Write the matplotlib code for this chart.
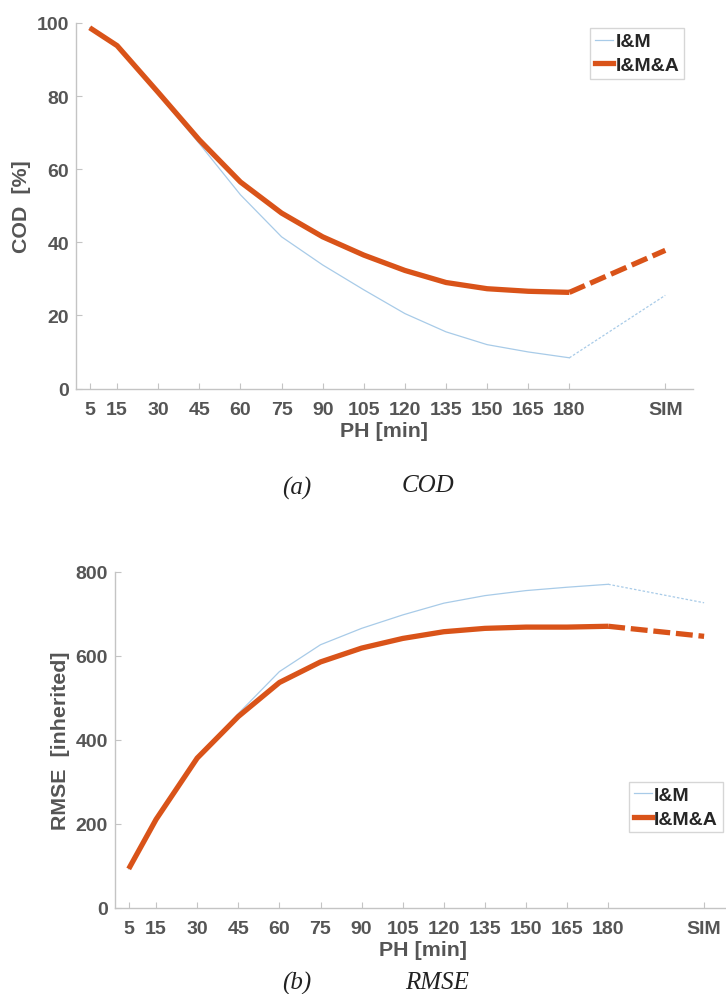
import matplotlib
matplotlib.use('Agg')
import matplotlib.pyplot as plt

# x positions (minutes); "SIM" is drawn at 215
ph = [5, 15, 30, 45, 60, 75, 90, 105, 120, 135, 150, 165, 180, 215]
tick_labels = ['5', '15', '30', '45', '60', '75', '90', '105', '120', '135', '150', '165', '180', 'SIM']

# COD [%]
cod_im = [98.7, 93.8, 80.5, 67, 53, 41.5, 33.8, 27, 20.5, 15.5, 12, 10, 8.4, 25.5]
cod_ima = [98.7, 93.8, 81, 68, 56.5, 48, 41.5, 36.5, 32.3, 29, 27.3, 26.6, 26.3, 37.8]

# RMSE [inherited]
rmse_im = [92, 210, 356, 462, 562, 626, 665, 697, 725, 743, 755, 763, 770, 726]
rmse_ima = [92, 210, 356, 455, 536, 585, 618, 641, 657, 665, 668, 668, 670, 646]

c_im = '#a8cbe8'
c_ima = '#d95319'
ax_col = '#c4c4c4'
txt_col = '#555555'

plt.rcParams['font.family'] = ['Liberation Sans', 'DejaVu Sans']

fig = plt.figure(figsize=(7.26, 9.95), dpi=100)
W, H = 726, 995


def fx(px):
    return px / W


def fy(py):
    return 1 - py / H


def panel(rect, im, ima, yticks, ylabel, leg_anchor):
    ax = fig.add_axes(rect)
    # solid part up to 180, dashed part to SIM
    ax.plot(ph[:-1], im[:-1], color=c_im, lw=0.9, solid_joinstyle='round')
    ax.plot(ph[-2:], im[-2:], color=c_im, lw=0.9, ls=(0, (2, 1.5)))
    ax.plot(ph[:-1], ima[:-1], color=c_ima, lw=3.8, solid_joinstyle='round',
            solid_capstyle='butt')
    ax.plot(ph[-2:], ima[-2:], color=c_ima, lw=3.8, ls=(0, (3.2, 1.1)))
    ax.set_xlim(0, 225)
    ax.set_ylim(yticks[0], yticks[-1])
    ax.set_xticks(ph)
    ax.set_xticklabels(tick_labels)
    ax.set_yticks(yticks)
    for s in ['top', 'right']:
        ax.spines[s].set_visible(False)
    for s in ['left', 'bottom']:
        ax.spines[s].set_color(ax_col)
        ax.spines[s].set_linewidth(1.0)
    ax.tick_params(direction='in', length=4, width=0.8, color=ax_col,
                   labelsize=14, labelcolor=txt_col)
    ax.tick_params(axis='x', pad=9)
    ax.tick_params(axis='y', pad=5)
    for lab in ax.get_xticklabels() + ax.get_yticklabels():
        lab.set_fontweight('bold')
    ax.set_xlabel('PH [min]', fontsize=15.4, fontweight='bold', color=txt_col, labelpad=2)
    ax.set_ylabel(ylabel, fontsize=15.4, fontweight='bold', color=txt_col, labelpad=4)
    handles = [plt.Line2D([], [], color=c_im, lw=0.9),
               plt.Line2D([], [], color=c_ima, lw=3.8)]
    leg = fig.legend(handles, ['I&M', 'I&M&A'], loc='upper right',
                     bbox_to_anchor=leg_anchor, fontsize=14, frameon=True,
                     fancybox=False, borderpad=0.25, handlelength=0.95,
                     handletextpad=0.1, labelspacing=0.3, borderaxespad=0)
    leg.get_frame().set_edgecolor('#cccccc')
    leg.get_frame().set_linewidth(1.0)
    for t in leg.get_texts():
        t.set_fontweight('bold')
        t.set_color('#262626')
    return ax


ax1 = panel([fx(76), fy(389.5), fx(692.7) - fx(76), fy(24) - fy(389.5)],
            cod_im, cod_ima, [0, 20, 40, 60, 80, 100], 'COD  [%]',
            (fx(684), fy(29)))
ax2 = panel([fx(115), fy(908.5), fx(731.5) - fx(115), fy(572.7) - fy(908.5)],
            rmse_im, rmse_ima, [0, 200, 400, 600, 800], 'RMSE  [inherited]',
            (fx(722.7), fy(782.7)))

cap = dict(fontsize=18, style='italic', family='Liberation Serif', color='#222222',
           ha='center', va='center')
fig.text(fx(297), fy(488), '(a)', **cap)
fig.text(fx(428), fy(486), 'COD', **cap)
fig.text(fx(297), fy(983), '(b)', **cap)
fig.text(fx(437), fy(983), 'RMSE', **cap)

fig.savefig('out.png', dpi=100)
